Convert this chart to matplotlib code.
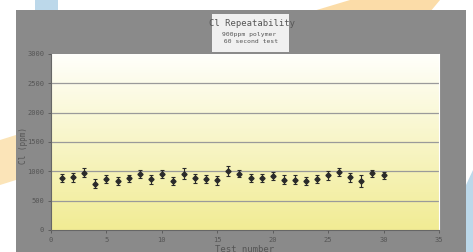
import numpy as np
import matplotlib
matplotlib.use("Agg")
import matplotlib.pyplot as plt
from matplotlib.patches import Polygon, Rectangle

# Data
test_number = list(range(1, 31))
cl_ppm = [885, 900, 975, 790, 865, 835, 880, 955, 865, 960,
          840, 960, 880, 865, 850, 1000, 960, 890, 890, 915,
          860, 860, 835, 865, 930, 995, 900, 830, 970, 930]
cl_err = [75, 75, 75, 75, 70, 75, 65, 75, 75, 70,
          70, 90, 75, 70, 75, 85, 65, 70, 70, 70,
          70, 70, 70, 70, 70, 70, 75, 100, 60, 65]

title = "Cl Repeatability"
subtitle = "900ppm polymer\n 60 second test"
xticks = [0, 5, 10, 15, 20, 25, 30, 35]
yticks = [0, 500, 1000, 1500, 2000, 2500, 3000]

W, H = 473, 252
fig = plt.figure(figsize=(W / 100, H / 100), dpi=100)
fig.patch.set_facecolor("white")

# faint background shapes behind the panel
def px(points):
    return [(x / W, 1 - y / H) for x, y in points]

fig.patches.append(Polygon(px([(35, 0), (58, 0), (58, 12), (35, 12)]),
                           closed=True, transform=fig.transFigure,
                           facecolor="#bcd8ea", edgecolor="none", zorder=0))
fig.patches.append(Polygon(px([(310, 12), (350, 0), (440, 0), (430, 12)]),
                           closed=True, transform=fig.transFigure,
                           facecolor="#fbdca8", edgecolor="none", zorder=0))
fig.patches.append(Polygon(px([(0, 140), (16, 135), (16, 180), (0, 185)]),
                           closed=True, transform=fig.transFigure,
                           facecolor="#fbe4b8", edgecolor="none", zorder=0))
fig.patches.append(Polygon(px([(466, 185), (473, 170), (473, 252), (466, 252)]),
                           closed=True, transform=fig.transFigure,
                           facecolor="#bcd8ea", edgecolor="none", zorder=0))

# gray panel
fig.patches.append(Rectangle((16 / W, 0), (466 - 16) / W, 1 - 10 / H,
                             transform=fig.transFigure, facecolor="#8a8a8a",
                             edgecolor="none", zorder=1))

ax = fig.add_axes([51 / W, 1 - 230 / H, (439 - 51) / W, (230 - 54) / H])
ax.set_facecolor("none")
ax.set_zorder(2)

# yellow gradient background
top = np.array([1.0, 1.0, 0.985])
bottom = np.array([0.945, 0.925, 0.58])
t = np.linspace(0, 1, 256)[:, None]
grad = (top * (1 - t) + bottom * t)[:, None, :]
ax.imshow(grad, extent=[0, 35, 0, 3000], aspect="auto", zorder=0)

for yv in yticks[1:-1]:
    ax.axhline(yv, color="#9a9a9a", lw=0.9, zorder=1)

ax.errorbar(test_number, cl_ppm, yerr=cl_err, fmt="D", ms=2.6, color="#2a2a2a",
            ecolor="#2a2a2a", elinewidth=0.8, capsize=1.5, capthick=0.8, zorder=3)

ax.set_xlim(0, 35)
ax.set_ylim(0, 3000)
ax.set_xticks(xticks)
ax.set_yticks(yticks)
ax.tick_params(labelsize=5, colors="#555555", length=2, width=0.6, pad=3)
for lab in ax.get_xticklabels() + ax.get_yticklabels():
    lab.set_family("DejaVu Sans Mono")
for side in ["left", "bottom"]:
    ax.spines[side].set_color("#666666")
    ax.spines[side].set_linewidth(0.8)
ax.spines["right"].set_color("white")
ax.spines["top"].set_visible(False)

fig.text(23 / W, 1 - 145 / H, "Cl (ppm)", rotation=90, ha="center", va="center",
         fontsize=5.5, color="#555555", family="DejaVu Sans Mono")
fig.text(245 / W, 1 - 250 / H, "Test number", ha="center", va="center",
         fontsize=6.5, color="#555555", family="DejaVu Sans Mono")

# title box
fig.patches.append(Rectangle((212 / W, 1 - 52 / H), (289 - 212) / W, (52 - 14) / H,
                             transform=fig.transFigure, facecolor="#f0f0f0",
                             edgecolor="none", zorder=3))
fig.text(252 / W, 1 - 23 / H, title, ha="center", va="center", fontsize=6.4,
         color="#555555", family="DejaVu Sans Mono", zorder=4)
fig.text(249 / W, 1 - 38 / H, subtitle, ha="center", va="center", fontsize=4.6,
         color="#555555", family="DejaVu Sans Mono", linespacing=1.7, zorder=4)

fig.savefig("out.png", dpi=100)
